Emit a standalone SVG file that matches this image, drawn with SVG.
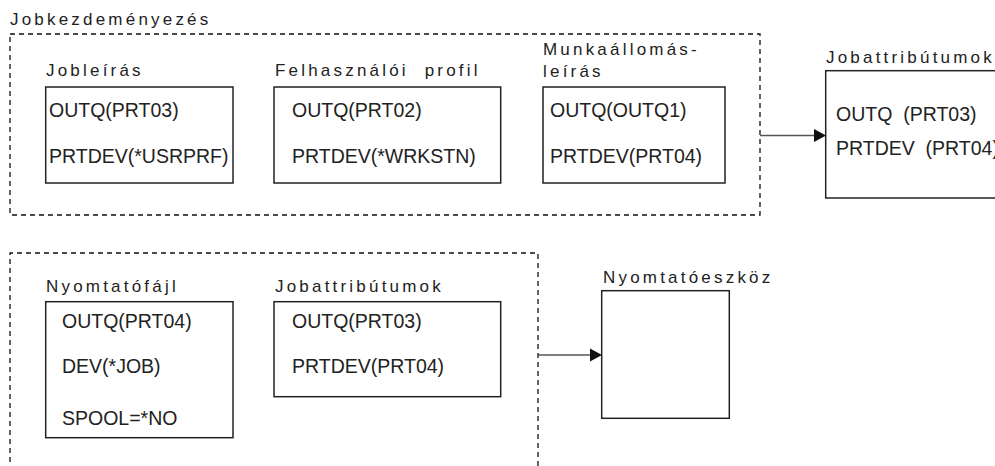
<svg xmlns="http://www.w3.org/2000/svg" width="995" height="466" viewBox="0 0 995 466">
<style>
.bg{fill:#fff}
.grp{fill:none;stroke:#111;stroke-width:1.3;stroke-dasharray:5 4}
.box{fill:#fff;stroke:#222;stroke-width:1.5}
.lbl{font-family:"Liberation Sans",Arial,sans-serif;font-size:17px;letter-spacing:3.2px;fill:#222;white-space:pre}
.txt{font-family:"Liberation Sans",Arial,sans-serif;font-size:19.5px;fill:#222;white-space:pre}
.con{stroke:#555;stroke-width:1.5;fill:none}
.head{fill:#111}
</style>
<rect class="bg" x="0" y="0" width="995" height="466"/>
<g id="group-jobkezdemenyezes">
<rect class="grp" x="10" y="34" width="750" height="181"/>
<text class="lbl" x="10" y="25">Jobkezdeményezés</text>
</g>
<g id="group-bottom">
<path class="grp" d="M10,480 V253 H538 V480"/>
</g>
<g id="node-jobleiras">
<text class="lbl" x="46" y="76">Jobleírás</text>
<rect class="box" x="45.7" y="87" width="187.3" height="96"/>
<text class="txt" x="49" y="117">OUTQ(PRT03)</text>
<text class="txt" x="49" y="163">PRTDEV(*USRPRF)</text>
</g>
<g id="node-felhasznaloi-profil">
<text class="lbl" x="275" y="76">Felhasználói  profil</text>
<rect class="box" x="274" y="87" width="226.7" height="96"/>
<text class="txt" x="292" y="117">OUTQ(PRT02)</text>
<text class="txt" x="292" y="163">PRTDEV(*WRKSTN)</text>
</g>
<g id="node-munkaallomas">
<text class="lbl" x="543" y="55">Munkaállomás-</text>
<text class="lbl" x="543" y="77">leírás</text>
<rect class="box" x="543" y="87" width="182" height="96"/>
<text class="txt" x="550" y="117">OUTQ(OUTQ1)</text>
<text class="txt" x="550" y="163">PRTDEV(PRT04)</text>
</g>
<g id="node-jobattributumok-1">
<text class="lbl" x="826" y="63">Jobattribútumok</text>
<rect class="box" x="825.7" y="70.7" width="220" height="127.3"/>
<text class="txt" x="836" y="121">OUTQ  (PRT03)</text>
<text class="txt" x="836" y="155">PRTDEV  (PRT04)</text>
</g>
<g id="node-nyomtatofajl">
<text class="lbl" x="46" y="292">Nyomtatófájl</text>
<rect class="box" x="45.7" y="301.7" width="187.3" height="136"/>
<text class="txt" x="62" y="328">OUTQ(PRT04)</text>
<text class="txt" x="62" y="373">DEV(*JOB)</text>
<text class="txt" x="62" y="425">SPOOL=*NO</text>
</g>
<g id="node-jobattributumok-2">
<text class="lbl" x="275" y="292">Jobattribútumok</text>
<rect class="box" x="274" y="301.7" width="226.7" height="95"/>
<text class="txt" x="292" y="328">OUTQ(PRT03)</text>
<text class="txt" x="292" y="373">PRTDEV(PRT04)</text>
</g>
<g id="node-nyomtatoeszkoz">
<text class="lbl" x="603" y="282.7">Nyomtatóeszköz</text>
<rect class="box" x="601.7" y="290.7" width="127.6" height="127.6"/>
</g>
<g id="connectors">
<line class="con" x1="760" y1="135.5" x2="815" y2="135.5"/>
<polygon class="head" points="814,129 826,135.5 814,142"/>
<line class="con" x1="538" y1="355" x2="591" y2="355"/>
<polygon class="head" points="590,348.5 602,355 590,361.5"/>
</g>
</svg>
